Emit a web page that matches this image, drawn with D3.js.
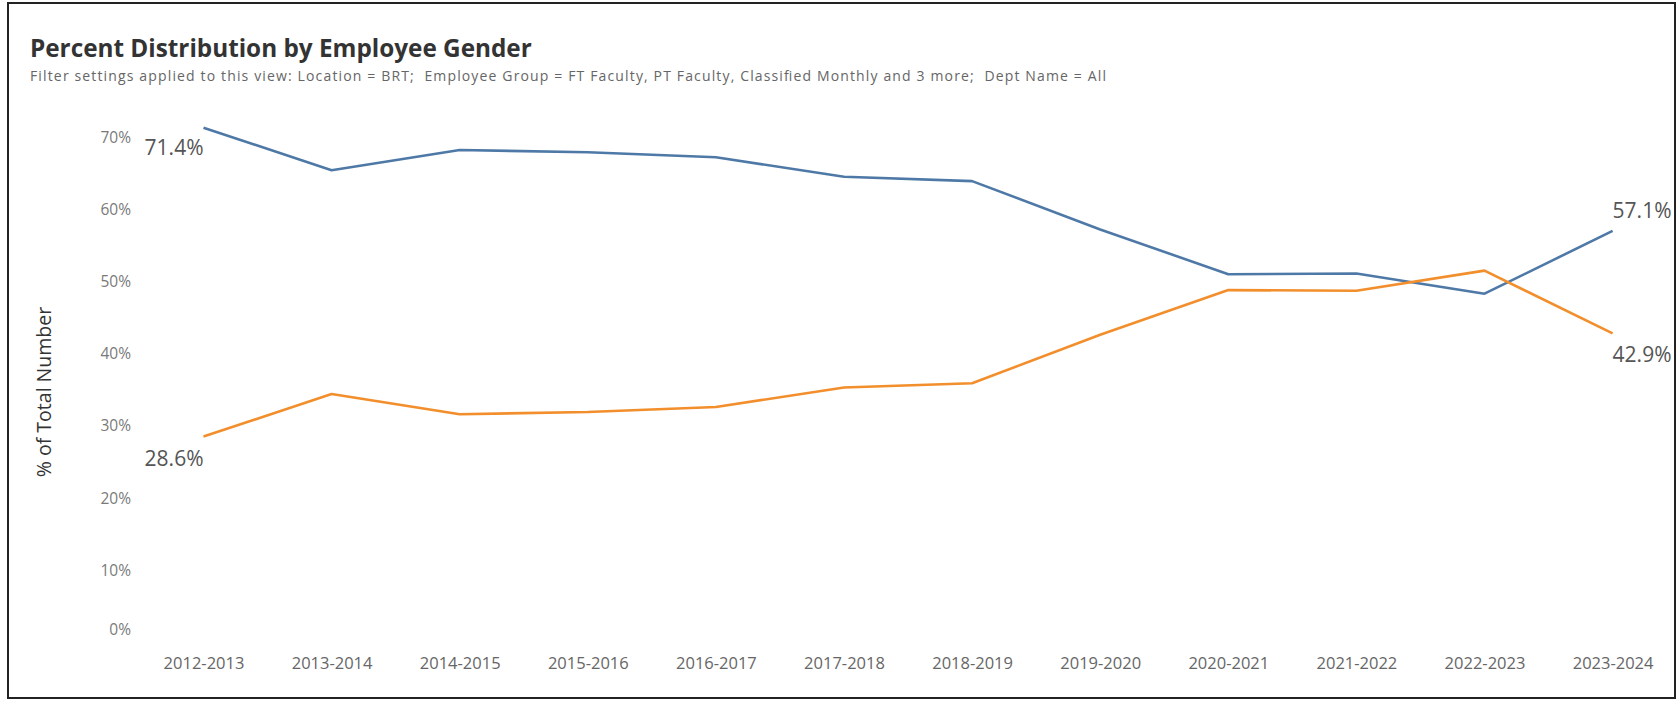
<!DOCTYPE html>
<html>
<head>
<meta charset="utf-8">
<script src="https://cdn.jsdelivr.net/npm/d3@7"></script>
<style>
  html, body { margin: 0; padding: 0; background: #fff; }
  svg { display: block; }
</style>
</head>
<body>
<svg id="chart" width="1679" height="702"></svg>
<script>
// ---- data ----
const years = ["2012-2013","2013-2014","2014-2015","2015-2016","2016-2017","2017-2018",
               "2018-2019","2019-2020","2020-2021","2021-2022","2022-2023","2023-2024"];
const seriesA = [71.4, 65.5, 68.3, 68.0, 67.3, 64.6, 64.0, 57.3, 51.1, 51.2, 48.4, 57.1]; // blue
const seriesB = [28.6, 34.5, 31.7, 32.0, 32.7, 35.4, 36.0, 42.7, 48.9, 48.8, 51.6, 42.9]; // orange
const yTicks = [0, 10, 20, 30, 40, 50, 60, 70];
const titleText = "Percent Distribution by Employee Gender";
const subtitleText = "Filter settings applied to this view: Location = BRT;  Employee Group = FT Faculty, PT Faculty, Classified Monthly and 3 more;  Dept Name = All";
const yAxisTitle = "% of Total Number";

// ---- layout ----
const svg = d3.select("#chart");
const font = "'Open Sans', 'Noto Sans', sans-serif";

// outer frame
svg.append("rect").attr("x", 8).attr("y", 3).attr("width", 1667).attr("height", 695)
  .attr("fill", "#fff").attr("stroke", "#222").attr("stroke-width", 2);

svg.append("text").attr("x", 30).attr("y", 57)
  .attr("font-family", font).attr("font-size", 24.3).attr("font-weight", 700)
  .attr("fill", "#333").text(titleText);

svg.append("text").attr("x", 30).attr("y", 81)
  .attr("xml:space", "preserve").style("white-space", "pre")
  .attr("font-family", font).attr("font-size", 14)
  .attr("textLength", 1076).attr("lengthAdjust", "spacing")
  .attr("fill", "#666").text(subtitleText);

const x = d3.scalePoint().domain(years).range([203.5, 1612.6]);
const y = d3.scaleLinear().domain([0, 70]).range([643, 137.8]);

// y axis tick labels
const yAxis = svg.append("g").attr("transform", "translate(131,0)")
  .call(d3.axisLeft(y).tickValues(yTicks).tickFormat(d => d + "%").tickSize(0).tickPadding(0));
yAxis.select(".domain").remove();
yAxis.selectAll(".tick").attr("transform", d => `translate(0,${Math.min(y(d), 630)})`);
yAxis.selectAll("text").attr("font-family", font).attr("font-size", 15.5).attr("fill", "#7a7a7a");

// y axis title
svg.append("text")
  .attr("transform", "translate(51,392) rotate(-90)")
  .attr("text-anchor", "middle")
  .attr("font-family", font).attr("font-size", 19.5).attr("fill", "#333")
  .text(yAxisTitle);

// x axis labels
const xAxis = svg.append("g").attr("transform", "translate(0,657)")
  .call(d3.axisBottom(x).tickSize(0).tickPadding(0));
xAxis.select(".domain").remove();
xAxis.selectAll("text").attr("font-family", font).attr("font-size", 16.5).attr("fill", "#666")
  .attr("dy", "0.7em");

// lines
const line = d3.line().x((d, i) => x(years[i])).y(d => y(d));
svg.append("path").datum(seriesA).attr("d", line)
  .attr("fill", "none").attr("stroke", "#4e79a7").attr("stroke-width", 2.6)
  .attr("stroke-linejoin", "round");
svg.append("path").datum(seriesB).attr("d", line)
  .attr("fill", "none").attr("stroke", "#f28e2b").attr("stroke-width", 2.6)
  .attr("stroke-linejoin", "round");

// end labels
const last = years.length - 1;
const lbl = [
  {v: seriesA[0], i: 0, anchor: "end", dy: 19},
  {v: seriesB[0], i: 0, anchor: "end", dy: 21},
  {v: seriesA[last], i: last, anchor: "start", dy: -21},
  {v: seriesB[last], i: last, anchor: "start", dy: 21}
];
svg.append("g").selectAll("text").data(lbl).join("text")
  .attr("x", d => x(years[d.i]))
  .attr("y", d => y(d.v) + d.dy)
  .attr("dominant-baseline", "central")
  .attr("text-anchor", d => d.anchor)
  .attr("font-family", font).attr("font-size", 21).attr("fill", "#555")
  .text(d => d.v.toFixed(1) + "%");
</script>
</body>
</html>
